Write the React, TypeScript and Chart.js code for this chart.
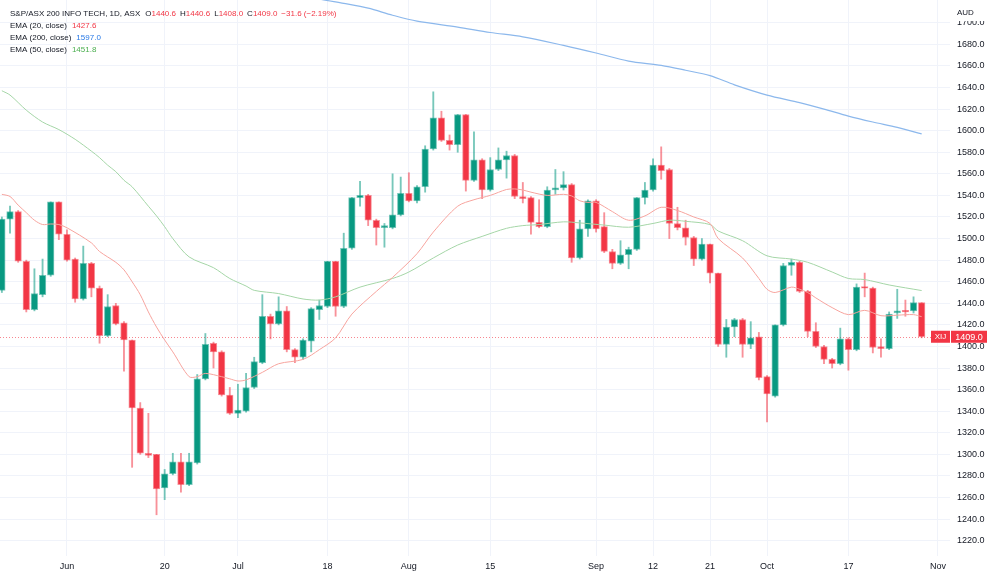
import React, { useEffect, useRef } from 'react';
import { Chart, registerables } from 'chart.js';

Chart.register(...registerables);

// ---- Data (S&P/ASX 200 INFO TECH, daily, 2022) ----
const dates = [
  'May 20', 'May 23', 'May 24', 'May 25', 'May 26', 'May 27', 'May 30', 'May 31',
  'Jun 1', 'Jun 2', 'Jun 3', 'Jun 6', 'Jun 7', 'Jun 8', 'Jun 9', 'Jun 10', 'Jun 14', 'Jun 15', 'Jun 16', 'Jun 17',
  'Jun 20', 'Jun 21', 'Jun 22', 'Jun 23', 'Jun 24', 'Jun 27', 'Jun 28', 'Jun 29', 'Jun 30',
  'Jul 1', 'Jul 4', 'Jul 5', 'Jul 6', 'Jul 7', 'Jul 8', 'Jul 11', 'Jul 12', 'Jul 13', 'Jul 14', 'Jul 15',
  'Jul 18', 'Jul 19', 'Jul 20', 'Jul 21', 'Jul 22', 'Jul 25', 'Jul 26', 'Jul 27', 'Jul 28', 'Jul 29',
  'Aug 1', 'Aug 2', 'Aug 3', 'Aug 4', 'Aug 5', 'Aug 8', 'Aug 9', 'Aug 10', 'Aug 11', 'Aug 12',
  'Aug 15', 'Aug 16', 'Aug 17', 'Aug 18', 'Aug 19', 'Aug 22', 'Aug 23', 'Aug 24', 'Aug 25', 'Aug 26',
  'Aug 29', 'Aug 30', 'Aug 31',
  'Sep 1', 'Sep 2', 'Sep 5', 'Sep 6', 'Sep 7', 'Sep 8', 'Sep 9', 'Sep 12', 'Sep 13', 'Sep 14', 'Sep 15', 'Sep 16',
  'Sep 19', 'Sep 20', 'Sep 21', 'Sep 23', 'Sep 26', 'Sep 27', 'Sep 28', 'Sep 29', 'Sep 30',
  'Oct 3', 'Oct 4', 'Oct 5', 'Oct 6', 'Oct 7', 'Oct 10', 'Oct 11', 'Oct 12', 'Oct 13', 'Oct 14',
  'Oct 17', 'Oct 18', 'Oct 19', 'Oct 20', 'Oct 21', 'Oct 24', 'Oct 25', 'Oct 26', 'Oct 27', 'Oct 28',
];

const opens = [
  1452, 1518, 1525, 1479, 1434, 1448, 1466, 1534,
  1504, 1481, 1444, 1477, 1454, 1410, 1438, 1422, 1406, 1343, 1301, 1300,
  1269, 1282, 1293, 1272, 1292, 1370, 1403, 1395, 1355,
  1338, 1340, 1362, 1385, 1428, 1421, 1433, 1397, 1390, 1405, 1434,
  1437, 1479, 1437, 1491, 1538, 1540, 1517, 1510, 1510, 1522,
  1542, 1535, 1548, 1583, 1612, 1591, 1587, 1615, 1554, 1573,
  1545, 1564, 1573, 1577, 1539, 1538, 1515, 1511, 1545, 1547,
  1550, 1482, 1509,
  1535, 1511, 1488, 1477, 1485, 1490, 1538, 1545, 1568, 1564, 1514, 1510,
  1501, 1481, 1495, 1468, 1402, 1418, 1425, 1402, 1409,
  1372, 1354, 1420, 1475, 1478, 1451, 1414, 1400, 1388, 1384,
  1407, 1397, 1455, 1454, 1400, 1398, 1431, 1433, 1433, 1440.6,
];
const highs = [
  1520, 1530, 1526, 1480, 1472, 1481, 1534, 1534,
  1508, 1482, 1493, 1478, 1456, 1448, 1440, 1423, 1406, 1348, 1338, 1300,
  1286, 1301, 1301, 1301, 1374, 1412, 1404, 1396, 1362,
  1365, 1375, 1390, 1448, 1430, 1446, 1437, 1398, 1407, 1436, 1443,
  1479, 1479, 1505, 1538, 1553, 1541, 1518, 1514, 1560, 1557,
  1561, 1549, 1586, 1636, 1618, 1596, 1615, 1615, 1599, 1574,
  1575, 1584, 1581, 1578, 1552, 1539, 1536, 1548, 1564, 1562,
  1551, 1517, 1536,
  1536, 1524, 1490, 1498, 1492, 1538, 1552, 1574, 1585, 1565, 1529, 1517,
  1502, 1500, 1495, 1468, 1425, 1426, 1426, 1423, 1413,
  1373, 1420, 1477, 1481, 1479, 1452, 1422, 1401, 1389, 1417,
  1408, 1458, 1468, 1455, 1407, 1432, 1453, 1443, 1446, 1440.6,
];
const lows = [
  1450, 1505, 1478, 1432, 1433, 1446, 1465, 1499,
  1479, 1441, 1443, 1446, 1403, 1409, 1420, 1377, 1288, 1300, 1297, 1244,
  1258, 1281, 1265, 1271, 1291, 1369, 1380, 1354, 1337,
  1334, 1339, 1361, 1384, 1407, 1420, 1395, 1385, 1388, 1395, 1425,
  1436, 1428, 1436, 1490, 1530, 1512, 1494, 1492, 1509, 1521,
  1534, 1533, 1543, 1582, 1590, 1582, 1580, 1544, 1553, 1537,
  1544, 1563, 1556, 1537, 1533, 1504, 1510, 1510, 1541, 1545,
  1478, 1481, 1502,
  1506, 1487, 1472, 1476, 1472, 1489, 1532, 1544, 1555, 1500, 1508, 1494,
  1475, 1480, 1459, 1400, 1390, 1409, 1390, 1398, 1369,
  1330, 1353, 1419, 1466, 1450, 1409, 1399, 1384, 1380, 1383,
  1378, 1396, 1446, 1394, 1390, 1397, 1426, 1428, 1431, 1408.0,
];
const closes = [
  1518, 1525, 1479, 1434, 1449, 1466, 1534, 1504,
  1480, 1444, 1477, 1454, 1410, 1437, 1421, 1406, 1343, 1301, 1299, 1268,
  1282, 1293, 1272, 1293, 1370, 1402, 1395, 1355, 1338,
  1341, 1362, 1386, 1428, 1421, 1433, 1397, 1390, 1406, 1435, 1438,
  1479, 1437, 1491, 1538, 1540, 1517, 1510, 1512, 1522, 1542,
  1535, 1548, 1583, 1612, 1591, 1587, 1615, 1554, 1573, 1545,
  1564, 1573, 1577, 1539, 1537, 1515, 1511, 1545, 1547, 1550,
  1482, 1509, 1535,
  1509, 1488, 1477, 1485, 1490, 1538, 1545, 1568, 1563, 1514, 1510, 1501,
  1481, 1495, 1468, 1402, 1418, 1425, 1402, 1408, 1371,
  1356, 1420, 1475, 1478, 1451, 1414, 1400, 1388, 1384, 1407,
  1397, 1455, 1454, 1399, 1398, 1430, 1433, 1432, 1440.6, 1409.0,
];

// EMA lines (position = candle index, value = price)
const ema20Pos = [0, 1, 2, 3, 4, 5, 6, 7, 8, 11, 12, 14, 15, 16, 17, 18, 19, 20, 21, 23, 24, 25, 27, 28, 29, 30, 32, 34, 37, 39, 41, 43, 46, 48, 51, 53, 56, 58, 60, 62, 63, 64, 65, 67, 69, 70, 71, 72, 73, 75, 77, 79, 81, 83, 85, 87, 88, 91, 93, 94, 95, 97, 98, 99, 100, 102, 104, 106, 108, 110, 112, 113];
const ema20Val = [1541, 1539, 1531, 1524, 1517, 1513, 1513.5, 1513, 1510, 1496, 1488, 1478, 1471, 1460, 1448, 1432, 1418, 1406, 1395, 1372, 1372, 1375, 1372, 1370, 1368, 1369, 1376, 1384, 1388, 1397, 1408, 1430, 1451, 1464, 1486, 1506, 1530, 1536, 1540, 1545.5, 1546, 1545, 1543, 1540, 1541, 1539.5, 1535, 1533.5, 1533.5, 1525, 1517, 1521, 1529, 1526, 1520, 1514, 1500, 1482, 1463, 1453, 1450, 1455, 1453, 1450, 1445, 1436, 1429.5, 1433.5, 1428.5, 1429, 1429.5, 1427.6];

const ema50Pos = [0, 1, 3, 5, 7, 9, 11, 12, 13, 14, 15, 16, 18, 19, 20, 21, 23, 26, 28, 30, 31, 34, 37, 39, 41, 44, 48, 50, 53, 56, 59, 62, 64, 66, 69, 71, 74, 77, 80, 82, 84, 87, 88, 91, 94, 97, 99, 102, 104, 106, 109, 113];
const ema50Val = [1637, 1633, 1619, 1608, 1601, 1592, 1581, 1575, 1568, 1562, 1554, 1548, 1530, 1521, 1511, 1500, 1483, 1473, 1463, 1456, 1452, 1449, 1444, 1443, 1446, 1455, 1463, 1469, 1482, 1494, 1502, 1509.5, 1512, 1513, 1515.5, 1514.5, 1512.5, 1510.5, 1514, 1517, 1516, 1513, 1507, 1498, 1484, 1481, 1478, 1469, 1463, 1462, 1457, 1451.8];

const ema200Pos = [37, 39, 42, 45, 48, 51, 56, 60, 64, 69, 73, 77, 81, 84, 87, 90, 94, 98, 101, 104, 107, 110, 113];
const ema200Val = [1726, 1722, 1718, 1713.5, 1707, 1701.5, 1696, 1691, 1687, 1679, 1672, 1664.5, 1660.5, 1656, 1651, 1642.5, 1633, 1626, 1620, 1613.5, 1608, 1603, 1597.0];

// Time axis ticks (candle positions; "Nov" is the first session after the last candle + 1)
const xTickPos = [8, 20, 29, 40, 50, 60, 73, 80, 87, 94, 104, 115];
const xTickLabels = ['Jun', '20', 'Jul', '18', 'Aug', '15', 'Sep', '12', '21', 'Oct', '17', 'Nov'];
const yTicks = [1220, 1240, 1260, 1280, 1300, 1320, 1340, 1360, 1380, 1400, 1420, 1440, 1460, 1480, 1500, 1520, 1540, 1560, 1580, 1600, 1620, 1640, 1660, 1680, 1700];

const symbolTitle = 'S&P/ASX 200 INFO TECH, 1D, ASX';
const ticker = 'XIJ';
const currency = 'AUD';

// ---- Styles ----
const UP = '#089981';
const DOWN = '#f23645';
const UP_SOFT = 'rgba(8,153,129,0.55)';
const DOWN_SOFT = 'rgba(242,54,69,0.55)';
const TEXT = '#131722';
const GRID = '#f0f3fa';
const FONT = '"Liberation Sans", Arial, sans-serif';
const EMA20_LINE = '#f7a49e';
const EMA50_LINE = '#a5d6a7';
const EMA200_LINE = '#8cb8ec';
const EMA20_TXT = '#f23645';
const EMA50_TXT = '#4caf50';
const EMA200_TXT = '#2979e6';

const fmt = (v: number) => v.toFixed(1);

const overlay = {
  id: 'overlay',
  beforeDatasetsDraw(chart: any) {
    const { ctx, chartArea, scales } = chart;
    const last = closes[closes.length - 1];
    const y = Math.round(scales.y.getPixelForValue(last)) + 0.5;
    ctx.save();
    ctx.strokeStyle = 'rgba(242,54,69,0.6)';
    ctx.lineWidth = 1;
    ctx.setLineDash([1, 2]);
    ctx.beginPath();
    ctx.moveTo(chartArea.left, y);
    ctx.lineTo(chartArea.right, y);
    ctx.stroke();
    ctx.restore();
  },
  afterDraw(chart: any) {
    const { ctx, chartArea, scales } = chart;
    const n = closes.length;
    const o = opens[n - 1], h = highs[n - 1], l = lows[n - 1], c = closes[n - 1];
    const chg = c - closes[n - 2];
    const pct = (chg / closes[n - 2]) * 100;
    const minus = (v: number, d: number) => (v < 0 ? '\u2212' : '+') + Math.abs(v).toFixed(d);

    ctx.save();
    ctx.textBaseline = 'middle';
    ctx.textAlign = 'left';
    ctx.font = `8px ${FONT}`;
    let x = 10;
    const put = (t: string, col: string, gap = 0) => {
      ctx.fillStyle = col;
      ctx.fillText(t, x, 13.5);
      x += ctx.measureText(t).width + gap;
    };
    put(symbolTitle, TEXT, 5);
    put('O', TEXT); put(fmt(o), DOWN, 4);
    put('H', TEXT); put(fmt(h), DOWN, 4);
    put('L', TEXT); put(fmt(l), DOWN, 4);
    put('C', TEXT); put(fmt(c), DOWN, 4);
    put(`${minus(chg, 1)} (${minus(pct, 2)}%)`, DOWN);

    const legend = [
      ['EMA (20, close)', fmt(ema20Val[ema20Val.length - 1]), EMA20_TXT],
      ['EMA (200, close)', fmt(ema200Val[ema200Val.length - 1]), EMA200_TXT],
      ['EMA (50, close)', fmt(ema50Val[ema50Val.length - 1]), EMA50_TXT],
    ];
    legend.forEach(([name, val, col], i) => {
      const yy = 25.5 + i * 12;
      ctx.fillStyle = TEXT;
      ctx.fillText(name, 10, yy);
      const w = ctx.measureText(name).width;
      ctx.fillStyle = col;
      ctx.fillText(val, 10 + w + 5, yy);
    });

    ctx.fillStyle = '#ffffff';
    ctx.fillRect(chartArea.right + 1, 0, 1000 - chartArea.right, 21);
    ctx.fillStyle = TEXT;
    ctx.fillText(currency, chartArea.right + 7, 12.5);

    const py = scales.y.getPixelForValue(c);
    ctx.fillStyle = DOWN;
    ctx.fillRect(chartArea.right - 19, py - 6, 19, 12);
    ctx.fillRect(chartArea.right + 1, py - 6, 36, 12);
    ctx.fillStyle = '#ffffff';
    ctx.textAlign = 'center';
    ctx.font = `8px ${FONT}`;
    ctx.fillText(ticker, chartArea.right - 9.5, py + 0.5);
    ctx.font = `9px ${FONT}`;
    ctx.fillText(fmt(c), chartArea.right + 19, py + 0.5);
    ctx.restore();
  },
};

export default function App() {
  const ref = useRef<HTMLCanvasElement | null>(null);

  useEffect(() => {
    if (!ref.current) return;
    const bodies = opens.map((op, i) => ({ x: i, y: [op, closes[i]] }));
    const wicks = opens.map((_, i) => ({ x: i, y: [lows[i], highs[i]] }));
    const up = opens.map((op, i) => closes[i] >= op);
    const cols = up.map((u) => (u ? UP : DOWN));
    const soft = up.map((u) => (u ? UP_SOFT : DOWN_SOFT));
    const line = (pos: number[], val: number[]) => pos.map((p, i) => ({ x: p, y: val[i] }));

    const chart = new Chart(ref.current, {
      type: 'bar',
      data: {
        labels: dates,
        datasets: [
          { type: 'line', label: 'EMA 20', data: line(ema20Pos, ema20Val), borderColor: EMA20_LINE, borderWidth: 1, pointRadius: 0, tension: 0.3, order: 0 } as any,
          { type: 'line', label: 'EMA 200', data: line(ema200Pos, ema200Val), borderColor: EMA200_LINE, borderWidth: 1.2, pointRadius: 0, tension: 0.3, order: 0 } as any,
          { type: 'line', label: 'EMA 50', data: line(ema50Pos, ema50Val), borderColor: EMA50_LINE, borderWidth: 1, pointRadius: 0, tension: 0.3, order: 0 } as any,
          { type: 'bar', label: 'body', data: bodies, backgroundColor: cols, borderColor: soft, borderWidth: 1, borderSkipped: false, barThickness: 6.6, grouped: false, minBarLength: 1.5, order: 1 } as any,
          { type: 'bar', label: 'wick', data: wicks, backgroundColor: soft, borderWidth: 0, barThickness: 1.2, grouped: false, order: 2 } as any,
        ],
      },
      options: {
        animation: false,
        responsive: false,
        devicePixelRatio: 1,
        layout: { padding: 0 },
        plugins: { legend: { display: false }, tooltip: { enabled: false }, title: { display: false } },
        scales: {
          x: {
            type: 'linear',
            min: -0.23,
            max: 116.48,
            offset: false,
            grid: { color: GRID, drawTicks: false, offset: false },
            border: { display: false },
            ticks: {
              autoSkip: false,
              maxRotation: 0,
              padding: 5,
              color: TEXT,
              font: { size: 9, family: FONT },
              callback: (_v: any, i: number) => xTickLabels[i],
            },
            afterBuildTicks: (s: any) => { s.ticks = xTickPos.map((v) => ({ value: v })); },
            afterFit: (s: any) => { s.height = 22; s.paddingLeft = 0; s.paddingRight = 0; },
          } as any,
          y: {
            type: 'linear',
            position: 'right',
            min: 1205.8,
            max: 1721.1,
            grid: { color: GRID, drawTicks: false },
            border: { display: false },
            ticks: {
              padding: 7,
              color: TEXT,
              font: { size: 9, family: FONT },
              callback: (v: any) => Number(v).toFixed(1),
            },
            afterBuildTicks: (s: any) => { s.ticks = yTicks.map((v) => ({ value: v })); },
            afterFit: (s: any) => { s.width = 50; s.paddingTop = 0; s.paddingBottom = 0; },
          } as any,
        },
      } as any,
      plugins: [overlay],
    });
    return () => chart.destroy();
  }, []);

  return (
    <div style={{ position: 'fixed', left: 0, top: 0, width: 1000, height: 578, background: '#ffffff' }}>
      <canvas ref={ref} width={1000} height={578} style={{ width: 1000, height: 578, display: 'block' }} />
    </div>
  );
}
